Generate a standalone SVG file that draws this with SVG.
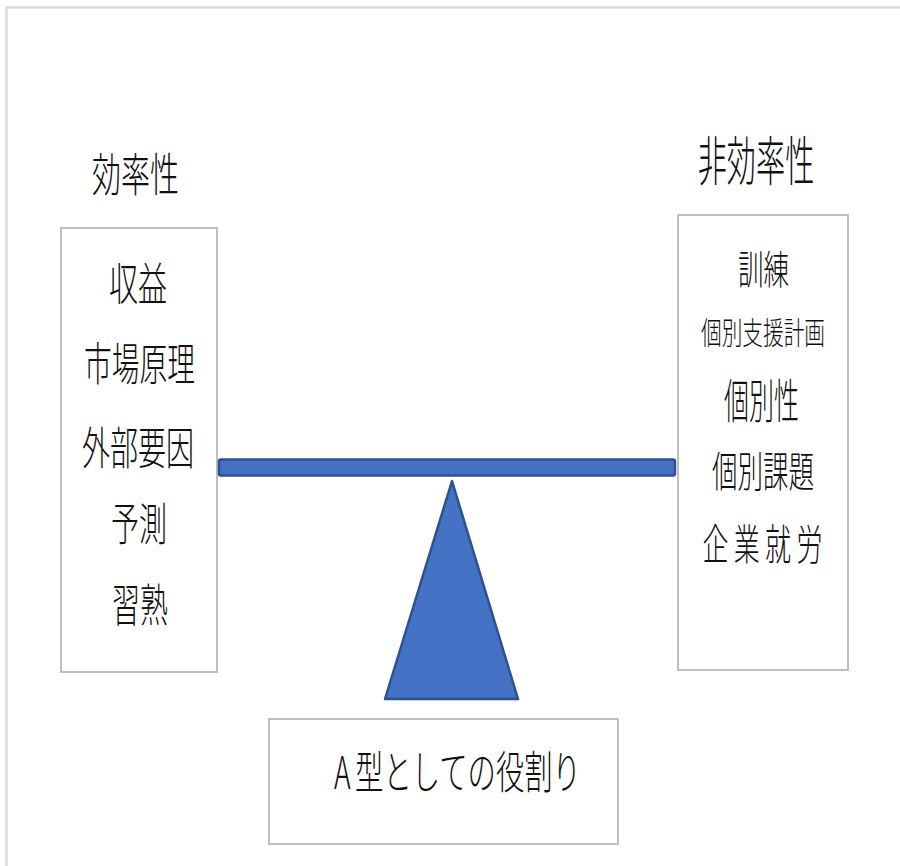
<svg xmlns="http://www.w3.org/2000/svg" width="900" height="866" viewBox="0 0 900 866">
<style>
.t{font-family:"Noto Sans CJK JP Light","Noto Sans CJK JP","Noto Sans CJK SC",sans-serif;font-weight:300;fill:#111;text-anchor:middle}
.box{fill:#fff;stroke:#bfbfbf;stroke-width:2}
.blue{fill:#4472C4;stroke:#2F528F;stroke-width:2.5;stroke-linejoin:round}
</style>
<rect x="0" y="0" width="900" height="866" fill="#fff"/>
<rect x="6.5" y="7.5" width="1000" height="1000" fill="none" stroke="#dadada" stroke-width="2.5"/>

<g id="title-left">
<text class="t" x="135.5" y="191" font-size="46" textLength="87" lengthAdjust="spacingAndGlyphs">効率性</text>
</g>
<g id="title-right">
<text class="t" font-size="54" transform="translate(756,181) scale(0.54,1)" x="0" y="0">非効率性</text>
</g>

<g id="left-box">
<rect class="box" x="61" y="228" width="156" height="444"/>
<text class="t" x="138" y="301" font-size="45" textLength="58" lengthAdjust="spacingAndGlyphs">収益</text>
<text class="t" x="139.5" y="381" font-size="45" textLength="111" lengthAdjust="spacingAndGlyphs">市場原理</text>
<text class="t" x="138" y="465" font-size="45" textLength="112" lengthAdjust="spacingAndGlyphs">外部要因</text>
<text class="t" x="139" y="541" font-size="45" textLength="56" lengthAdjust="spacingAndGlyphs">予測</text>
<text class="t" x="140" y="622" font-size="45" textLength="56" lengthAdjust="spacingAndGlyphs">習熟</text>
</g>

<g id="right-box">
<rect class="box" x="678" y="215" width="170" height="455"/>
<text class="t" x="763.5" y="284" font-size="40" textLength="51" lengthAdjust="spacingAndGlyphs">訓練</text>
<text class="t" x="763" y="344" font-size="31" textLength="124" lengthAdjust="spacingAndGlyphs">個別支援計画</text>
<text class="t" x="761.5" y="418" font-size="47" textLength="75" lengthAdjust="spacingAndGlyphs">個別性</text>
<text class="t" x="763" y="487" font-size="42" textLength="102" lengthAdjust="spacingAndGlyphs">個別課題</text>
<text class="t" font-size="42" transform="translate(762.5,560) scale(0.62,1)" x="-75.8 -25.3 25.2 75.8" y="0">企業就労</text>
</g>

<g id="seesaw">
<rect class="blue" x="219" y="459.5" width="456" height="16" rx="2"/>
<polygon class="blue" points="452,481 518,699 385,699"/>
</g>

<g id="bottom-box">
<rect class="box" x="269" y="719" width="349" height="125"/>
<text class="t" font-size="45" transform="translate(334,789) scale(0.63,1)" x="0" y="0" style="text-anchor:start">A<tspan dx="7">型としての役割り</tspan></text>
</g>

<g id="connectors"></g>
</svg>
